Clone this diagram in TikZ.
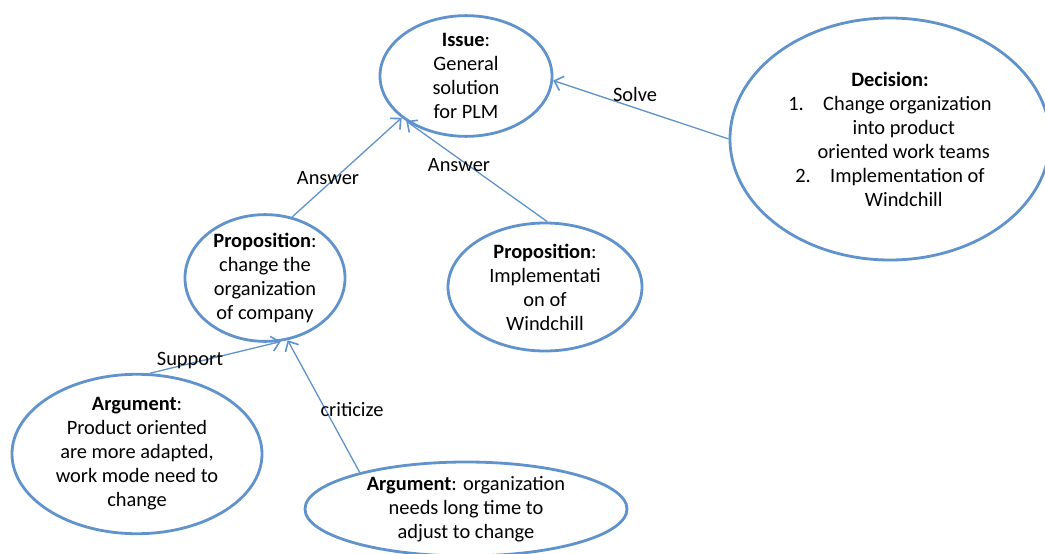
\documentclass[tikz,border=0pt]{standalone}
\usepackage{fontspec}
\setmainfont{Carlito}
\usetikzlibrary{arrows.meta,shapes.geometric}
\definecolor{lineblue}{RGB}{96,146,204}

\begin{document}
\begin{tikzpicture}[x=1pt,y=-1pt,>={Straight Barb[length=8pt,width=15pt,line width=1.6pt]},
 ell/.style={draw=lineblue,line width=2.8pt,ellipse,inner sep=0pt,align=center,font=\fontsize{20.4}{24}\selectfont},
 con/.style={draw=lineblue,line width=1.3pt,->},
 lab/.style={inner sep=0pt,font=\fontsize{20.4}{24}\selectfont}]
\useasboundingbox (0,0) rectangle (1045,554);
\node[ell,minimum width=172pt,minimum height=100pt] (issue) at (466,76) {\textbf{Issue}:\\General\\solution\\for PLM};
\node[ell,minimum width=320pt,minimum height=242pt] (decision) at (890,139)
 {\textbf{Decision:}\\1.\hspace{0.95em}Change organization\\\hspace*{1.35em}into product\\\hspace*{1.35em}oriented work teams\\2.\hspace{0.95em}Implementation of\\\hspace*{1.35em}Windchill};
\node[ell,minimum width=160pt,minimum height=104pt] (prop1) at (265,278) {\textbf{Proposition}:\\change the\\organization\\of company};
\node[ell,minimum width=194pt,minimum height=128pt] (prop2) at (545,287) {\textbf{Proposition}:\\Implementati\\on of\\Windchill};
\node[ell,minimum width=250pt,minimum height=138pt] (arg1) at (137,454) {\textbf{Argument}:\\Product oriented\\are more adapted,\\work mode need to\\change};
\node[ell,minimum width=322pt,minimum height=94pt] (arg2) at (466,509) {\textbf{Argument}: organization\\needs long time to\\adjust to change};
% links
\draw[con] (prop1.66) -- (issue.213);
\draw[con] (prop2.88) -- (issue.217);
\draw[con] (decision.180) -- (issue.357);
\draw[con] (arg1.81) -- (prop1.284);
\draw[con] (arg2.161) -- (prop1.290);
\node[lab] (ans1) at (328,178) {Answer};
\node[lab] (ans2) at (459,165) {Answer};
\node[lab] (solve) at (635,94) {Solve};
\node[lab] (sup) at (190,361) {Support};
\node[lab] (crit) at (352,410) {criticize};
\end{tikzpicture}
\end{document}
